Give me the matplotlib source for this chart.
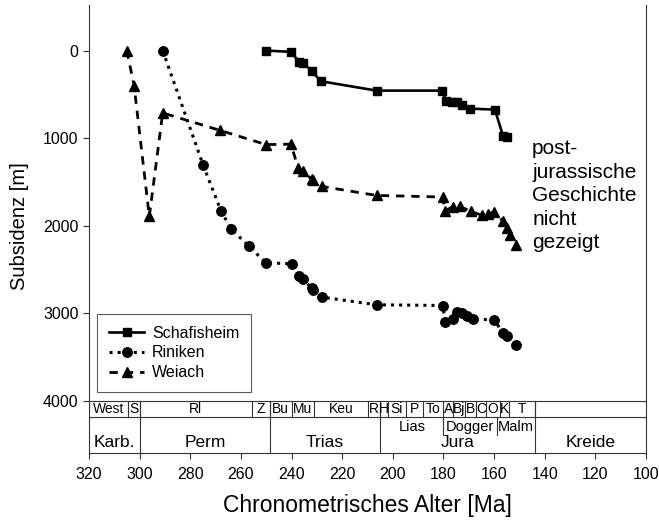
import matplotlib
matplotlib.use("Agg")
import matplotlib.pyplot as plt

plt.rcParams['font.family'] = ['Liberation Sans', 'DejaVu Sans']

# --- data ---
schaf_age = [250.1, 240.3, 237.0, 235.4, 232.0, 228.4, 206.4, 180.5, 179.0, 176.8,
             174.8, 172.8, 169.5, 159.7, 156.4, 155.0]
schaf_depth = [0, 15, 129, 141, 237, 351, 458, 458, 580, 587, 592, 618, 664, 675, 981, 992]

rinik_age = [290.9, 274.9, 267.9, 263.9, 256.8, 250.1, 240.0, 236.9, 235.4, 232.1,
             231.5, 228.1, 206.4, 180.3, 179.3, 176.4, 174.8, 172.8, 170.9, 168.2,
             160.0, 156.4, 154.8, 151.4]
rinik_depth = [0, 1312, 1831, 2037, 2239, 2426, 2437, 2574, 2612, 2715, 2735, 2818,
               2906, 2914, 3097, 3070, 2983, 2994, 3032, 3070, 3078, 3230, 3261, 3364]

weiach_age = [305.1, 302.2, 296.2, 290.9, 268.3, 250.1, 240.3, 237.3, 235.6, 232.1,
              231.5, 228.1, 206.4, 180.3, 179.3, 176.4, 173.5, 169.3, 164.6, 162.5,
              160.0, 156.4, 154.8, 153.8, 151.4]
weiach_depth = [0, 400, 1896, 713, 912, 1075, 1070, 1347, 1381, 1468, 1484, 1553,
                1656, 1674, 1831, 1785, 1781, 1838, 1884, 1870, 1842, 1953, 2029,
                2105, 2220]

# stratigraphic table
stage_names = ['West', 'S', 'Rl', 'Z', 'Bu', 'Mu', 'Keu', 'R', 'H', 'Si', 'P', 'To',
               'A', 'Bj', 'B', 'C', 'O', 'K', 'T', '']
stage_bounds = [320, 304.6, 300, 255.6, 248.5, 240, 231, 210, 205, 202, 195, 188,
                180, 176.2, 171.5, 167.2, 163.2, 157.7, 154, 144, 100]
series_names = ['Lias', 'Dogger', 'Malm']
series_bounds = [205, 180, 159, 144]
system_names = ['Karb.', 'Perm', 'Trias', 'Jura', 'Kreide']
system_bounds = [320, 300, 248.5, 205, 144, 100]

fig = plt.figure(figsize=(6.59, 5.20), dpi=100)
ax = fig.add_axes([0.1351, 0.1288, 0.8452, 0.8615])

ax.plot(schaf_age, schaf_depth, '-', color='black', lw=1.9, marker='s', ms=6.3,
        label='Schafisheim')
ax.plot(rinik_age, rinik_depth, ':', color='black', lw=2.2, marker='o', ms=6.8,
        label='Riniken')
ax.plot(weiach_age, weiach_depth, color='black', lw=2.0, dashes=(3, 2.5), marker='^',
        ms=6.8, label='Weiach')

ax.set_xlim(320, 100)
ax.set_ylim(4600, -520)
ax.set_xticks(range(320, 99, -20))
ax.set_yticks(range(0, 4001, 1000))
ax.tick_params(axis='both', direction='out', length=4, width=0.8, labelsize=11.5,
               color='#333333')
ax.tick_params(axis='x', pad=6)
ax.spines['top'].set_visible(False)
for s in ['left', 'right', 'bottom']:
    ax.spines[s].set_linewidth(0.8)
    ax.spines[s].set_color('#333333')

ax.set_xlabel('Chronometrisches Alter [Ma]', fontsize=16.5, labelpad=9)
ax.set_ylabel('Subsidenz [m]', fontsize=14.5)
ax.yaxis.set_label_coords(-0.108, 0.507)

# table lines
tc = '#333333'
tlw = 0.8
y_top, y_row1, y_sub, y_bot = 4000, 4188, 4394, 4600
ax.plot([320, 100], [y_top, y_top], color=tc, lw=tlw)
ax.plot([320, 100], [y_row1, y_row1], color=tc, lw=tlw)
for b in stage_bounds[1:-1]:
    ax.plot([b, b], [y_top, y_row1], color=tc, lw=tlw)
for b in system_bounds[1:-1]:
    ax.plot([b, b], [y_top, y_bot], color=tc, lw=tlw)
for b in series_bounds[1:-1]:
    ax.plot([b, b], [y_row1, y_sub], color=tc, lw=tlw)

for i, name in enumerate(stage_names):
    xc = (stage_bounds[i] + stage_bounds[i + 1]) / 2
    ax.text(xc, 4096, name, ha='center', va='center', fontsize=10)
for i, name in enumerate(series_names):
    xc = (series_bounds[i] + series_bounds[i + 1]) / 2
    ax.text(xc, 4300, name, ha='center', va='center', fontsize=10.5)
for i, name in enumerate(system_names):
    xc = (system_bounds[i] + system_bounds[i + 1]) / 2
    ax.text(xc, 4480, name, ha='center', va='center', fontsize=12.5)

ax.text(145, 1660, 'post-\njurassische\nGeschichte\nnicht\ngezeigt', ha='left',
        va='center', fontsize=15, linespacing=1.3)

leg = ax.legend(loc='lower left', bbox_to_anchor=(0.0144, 0.136), borderaxespad=0,
                fancybox=False, edgecolor='#333333', fontsize=11.5, handlelength=2.2,
                handletextpad=0.5, labelspacing=0.3, borderpad=0.75, numpoints=1)
leg.get_frame().set_linewidth(0.8)

fig.savefig('out.png', dpi=100)
